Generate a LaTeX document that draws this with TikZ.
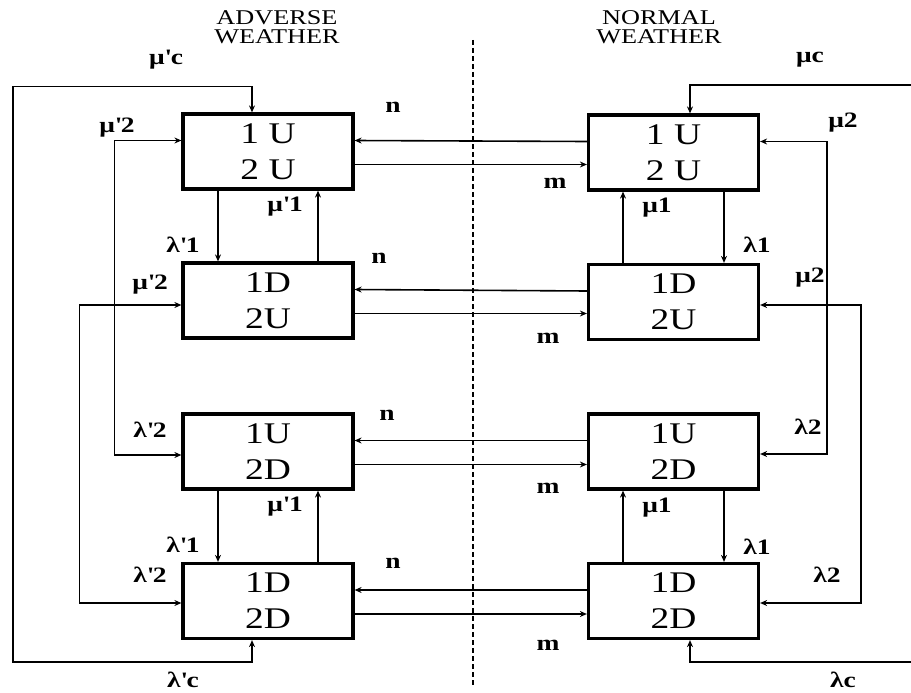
\documentclass[tikz,border=0pt]{standalone}
\usepackage{fontspec}
\setmainfont[FakeStretch=1.25]{Liberation Serif}
\usetikzlibrary{arrows.meta}
\newcommand{\ap}{\textquotesingle}
\begin{document}
\begin{tikzpicture}[x=1pt,y=-1pt,
  box/.style={draw, line width=3.2pt, minimum width=170pt, minimum height=75pt, inner sep=0pt, align=center, font=\fontsize{30}{36}\selectfont},
  tip/.tip={Stealth[length=7pt,width=6pt]},
  ln/.style={line width=1.6pt, -tip},
  bi/.style={line width=1.6pt, tip-tip},
  lab/.style={font=\fontsize{22}{22}\selectfont\bfseries, inner sep=0pt},
  head/.style={font=\fontsize{21}{19}\selectfont, align=center, inner sep=0pt}]
\useasboundingbox (0,0) rectangle (911,693);

% headings
\node[head] (hA) at (277,27) {ADVERSE\\WEATHER};
\node[head] (hN) at (659,27) {NORMAL\\WEATHER};
\draw[line width=1.2pt, dash pattern=on 5pt off 3pt] (473,40) coordinate (d1) -- (473,686) coordinate (d2);

% boxes
\node[box] (L1) at (268,151.5) {1 U\\2 U};
\node[box] (L2) at (268,300.5) {1D\\2U};
\node[box] (L3) at (268,451.5) {1U\\2D};
\node[box] (L4) at (268,601) {1D\\2D};
\node[box] (R1) at (673.5,152.5) {1 U\\2 U};
\node[box] (R2) at (673.5,302) {1D\\2U};
\node[box] (R3) at (673.5,451.5) {1U\\2D};
\node[box] (R4) at (673.5,601) {1D\\2D};

% horizontal n / m connectors
\foreach \i in {1,2,3,4}{
  \draw[ln] ([yshift=11pt]R\i.west) -- ([yshift=11pt]L\i.west -| L\i.east);
  \draw[ln] ([yshift=-13pt]L\i.east) -- ([yshift=-13pt]L\i.east -| R\i.west);
}

% vertical connectors
\draw[ln] ([xshift=-50pt]L1.south) -- ([xshift=-50pt]L2.north);
\draw[ln] ([xshift=50pt]L2.north) -- ([xshift=50pt]L1.south);
\draw[ln] ([xshift=-50pt]L3.south) -- ([xshift=-50pt]L4.north);
\draw[ln] ([xshift=50pt]L4.north) -- ([xshift=50pt]L3.south);
\draw[ln] ([xshift=-50.5pt]R2.north) -- ([xshift=-50.5pt]R1.south);
\draw[ln] ([xshift=50.5pt]R1.south) -- ([xshift=50.5pt]R2.north);
\draw[ln] ([xshift=-50.5pt]R4.north) -- ([xshift=-50.5pt]R3.south);
\draw[ln] ([xshift=50.5pt]R3.south) -- ([xshift=50.5pt]R4.north);

% side loops
\draw[bi] ([yshift=11pt]L1.west) -- ++(-67,0) |- ([yshift=-3.5pt]L3.west);
\draw[bi] ([yshift=-4.5pt]L2.west) -- ++(-102,0) |- ([yshift=-2pt]L4.west);
\draw[bi] ([yshift=11pt]R1.east) -- ++(67,0) |- ([yshift=-2.5pt]R3.east);
\draw[bi] ([yshift=-3pt]R2.east) -- ++(101,0) |- ([yshift=-2pt]R4.east);

% outer loops
\draw[bi] ([xshift=-16pt]L1.north) -- ++(0,-26) -| (13,662) -| ([xshift=-16pt]L4.south);
\coordinate (e1) at (911,85);
\coordinate (e2) at (911,662);
\draw[ln] (e1) -| ([xshift=16.5pt]R1.north);
\draw[ln] (e2) -| ([xshift=16.5pt]R4.south);

% labels
\node[lab] (a1) at (166,60) {μ\ap c};
\node[lab] (a2) at (810,60) {μc};
\node[lab] (a3) at (393,107) {n};
\node[lab] (a4) at (117,128) {μ\ap 2};
\node[lab] (a5) at (285,207) {μ\ap 1};
\node[lab] (a6) at (555,183) {m};
\node[lab] (a7) at (843,123) {μ2};
\node[lab] (a8) at (657,208) {μ1};
\node[lab] (a9) at (183,245) {λ\ap 1};
\node[lab] (a10) at (379,258) {n};
\node[lab] (a11) at (150,285) {μ\ap 2};
\node[lab] (a12) at (757,245) {λ1};
\node[lab] (a13) at (810,278) {μ2};
\node[lab] (a14) at (548,338) {m};
\node[lab] (a15) at (387,415) {n};
\node[lab] (a16) at (150,430) {λ\ap 2};
\node[lab] (a17) at (808,427) {λ2};
\node[lab] (a18) at (548,488) {m};
\node[lab] (a19) at (285,507) {μ\ap 1};
\node[lab] (a20) at (657,508) {μ1};
\node[lab] (a21) at (183,545) {λ\ap 1};
\node[lab] (a22) at (757,547) {λ1};
\node[lab] (a23) at (150,575) {λ\ap 2};
\node[lab] (a24) at (393,563) {n};
\node[lab] (a25) at (827,575) {λ2};
\node[lab] (a26) at (548,645) {m};
\node[lab] (a27) at (183,680) {λ\ap c};
\node[lab] (a28) at (843,680) {λc};
\end{tikzpicture}
\end{document}
